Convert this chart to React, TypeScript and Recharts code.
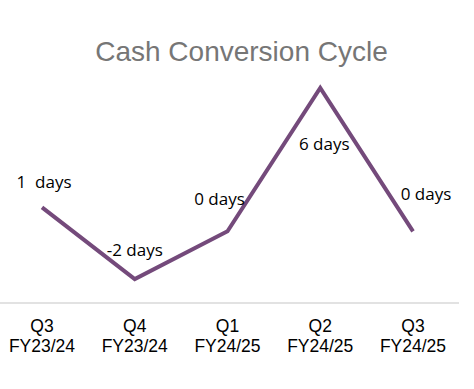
import { LineChart, Line, XAxis, YAxis, LabelList } from "recharts";

const quarters = ["Q3", "Q4", "Q1", "Q2", "Q3"];
const fiscalYears = ["FY23/24", "FY23/24", "FY24/25", "FY24/25", "FY24/25"];
const cycleDays = [1, -2, 0, 6, 0];
const dayLabels = ["1  days", "-2 days", "0 days", "6 days", "0 days"];

// hand-placed label nudges, like the original sheet
const labelNudge = [
  [2, -19],
  [0, -23],
  [-8, -26],
  [4, 62],
  [13, -31],
];

const data = quarters.map((q, i) => ({
  key: i,
  quarter: q,
  fy: fiscalYears[i],
  days: cycleDays[i],
  label: dayLabels[i],
}));

const LINE = "#744a7b";

function QuarterTick(props: any) {
  const { x, y, payload } = props;
  const row = data[payload.value];
  return (
    <text
      x={x}
      y={y}
      textAnchor="middle"
      fill="#000"
      style={{ fontFamily: "'Liberation Sans', Arial, sans-serif", fontSize: 17.5 }}
    >
      <tspan x={x} y={y + 21}>{row.quarter}</tspan>
      <tspan x={x} y={y + 41}>{row.fy}</tspan>
    </text>
  );
}

function DayLabel(props: any) {
  const { x, y, index } = props;
  const [dx, dy] = labelNudge[index];
  return (
    <text
      x={x + dx}
      y={y + dy}
      textAnchor="middle"
      fill="#000"
      style={{ fontFamily: "'Open Sans', sans-serif", fontSize: 17, whiteSpace: "pre" }}
    >
      {dayLabels[index]}
    </text>
  );
}

export default function App() {
  return (
    <div style={{ position: "absolute", left: 0, top: 0, width: 474, height: 389, background: "#fff" }}>
      <div
        style={{
          position: "absolute",
          top: 38,
          left: 0,
          width: 483,
          textAlign: "center",
          fontFamily: "'Liberation Sans', Arial, sans-serif",
          fontSize: 28,
          lineHeight: "28px",
          color: "#767676",
        }}
      >
        Cash Conversion Cycle
      </div>
      <LineChart width={474} height={389} data={data} margin={{ top: 64, right: 15, left: 0, bottom: 0 }}>
        <XAxis
          dataKey="key"
          type="category"
          height={86}
          padding={{ left: 42, right: 46 }}
          axisLine={{ stroke: "#d9d9d9", strokeWidth: 1.5 }}
          tickLine={false}
          tick={<QuarterTick />}
          interval={0}
        />
        <YAxis hide domain={[-3, 7]} />
        <Line
          dataKey="days"
          stroke={LINE}
          strokeWidth={4}
          dot={false}
          isAnimationActive={false}
          strokeLinejoin="miter"
        >
          <LabelList dataKey="label" content={<DayLabel />} />
        </Line>
      </LineChart>
    </div>
  );
}
